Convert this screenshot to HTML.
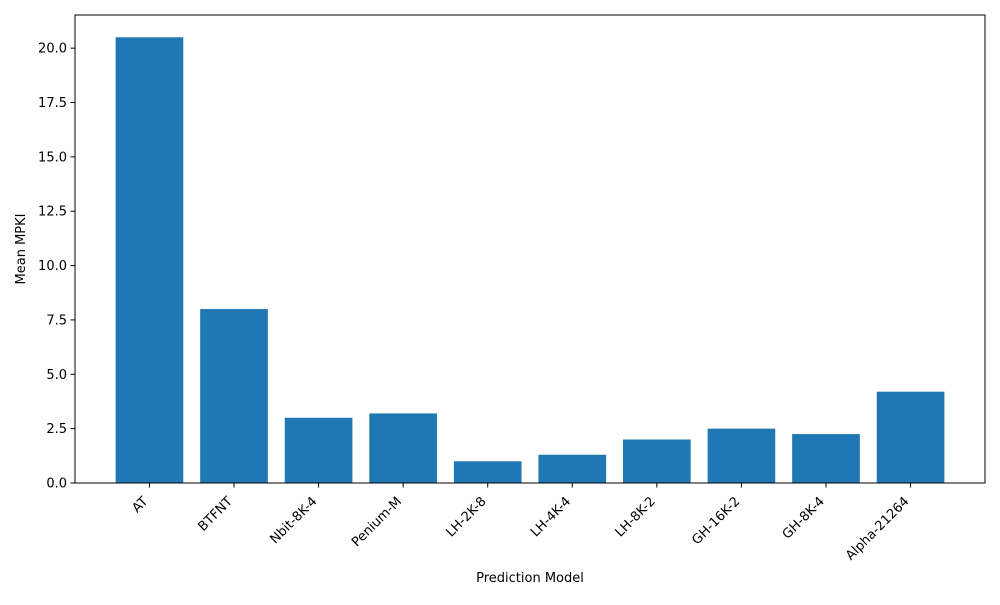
<!DOCTYPE html>
<html><head><meta charset="utf-8"><style>
html,body{margin:0;padding:0;background:#fff;}
svg text{font-family:"DejaVu Sans","Liberation Sans",sans-serif;font-size:13px;fill:#000;}
</style></head><body>
<svg id="chart" width="1000" height="600" xmlns="http://www.w3.org/2000/svg"></svg>
<script>
const categories = ["AT","BTFNT","Nbit-8K-4","Penium-M","LH-2K-8","LH-4K-4","LH-8K-2","GH-16K-2","GH-8K-4","Alpha-21264"];
const values = [20.5, 8.0, 3.0, 3.2, 1.0, 1.3, 2.0, 2.5, 2.25, 4.2];
const yTicks = [0, 2.5, 5, 7.5, 10, 12.5, 15, 17.5, 20];
const yTickLabels = ["0.0","2.5","5.0","7.5","10.0","12.5","15.0","17.5","20.0"];

const svg = document.getElementById('chart');
const NS = "http://www.w3.org/2000/svg";
const L=75, R=985, T=15, B=483;
const n = categories.length;
const xMin = -0.4 - 0.049*(n-0.2), xMax = (n-1)+0.4 + 0.049*(n-0.2);
const yMax = Math.max(...values)*1.05;
const xs = v => L + (v - xMin)/(xMax - xMin)*(R-L);
const ys = v => B - v/yMax*(B-T);
function mk(tag, attrs){const e=document.createElementNS(NS,tag);for(const k in attrs)e.setAttribute(k,attrs[k]);svg.appendChild(e);return e;}

values.forEach((v,i)=>{
  const x0=xs(i-0.4), x1=xs(i+0.4);
  const r=mk('rect',{x:x0,y:ys(v),width:x1-x0,height:B-ys(v),fill:'#1f77b4'});
  
  
  const cx=xs(i);
  const t=mk('line',{x1:cx,x2:cx,y1:B,y2:B+4.5,stroke:'#000','stroke-width':1});
  
  
  const ax=cx-1, ay=B+19;
  const lb=mk('text',{x:ax,y:ay,'text-anchor':'end',transform:`rotate(-45 ${ax} ${ay})`});
  lb.textContent=categories[i];
  
  
});
yTicks.forEach((v,i)=>{
  const y=ys(v);
  const t=mk('line',{x1:L-4.5,x2:L,y1:y,y2:y,stroke:'#000','stroke-width':1});
  
  
  const lb=mk('text',{x:L-8,y:y+4.5,'text-anchor':'end'});
  lb.textContent=yTickLabels[i];
  
  
});
const frame=mk('rect',{x:L,y:T,width:R-L,height:B-T,fill:'none',stroke:'#000','stroke-width':1});


const xt=mk('text',{x:(L+R)/2,y:582,'text-anchor':'middle'});
xt.textContent='Prediction Model';


const yt=mk('text',{x:25,y:(T+B)/2,'text-anchor':'middle',transform:`rotate(-90 25 ${(T+B)/2})`});
yt.textContent='Mean MPKI';


</script>
</body></html>
